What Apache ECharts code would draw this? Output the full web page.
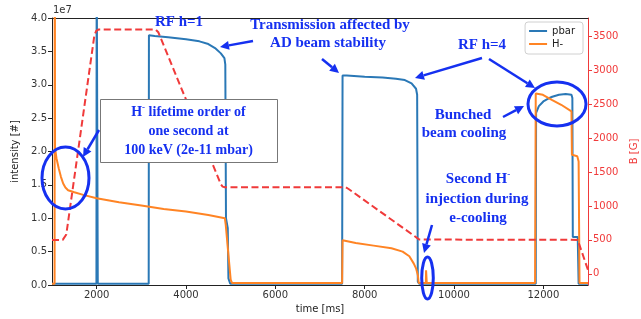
<!DOCTYPE html>
<html>
<head>
<meta charset="utf-8">
<script src="https://cdn.jsdelivr.net/npm/echarts@6/dist/echarts.min.js"></script>
<style>
html, body { margin: 0; padding: 0; background: #fff; }
#main { width: 641px; height: 319px; }
</style>
</head>
<body>
<div id="main"></div>
<script>
// time [ms] vs intensity (x1e7)
const pbar = [
    [1000, 0.02], [1995, 0.02], [2000, 5], [2020, 5], [2025, 0.02], [3165, 0.02],
    [3170, 3.74], [3300, 3.73], [3600, 3.71], [4000, 3.68], [4300, 3.65], [4500, 3.61],
    [4650, 3.55], [4780, 3.47], [4860, 3.40], [4880, 3.30], [4895, 1.0], [4935, 0.85],
    [4950, 0.1], [4990, 0.02], [7495, 0.02], [7505, 3.14], [7600, 3.14], [8000, 3.12],
    [8400, 3.11], [8700, 3.09], [8900, 3.07], [9050, 3.02], [9150, 2.94], [9175, 2.85],
    [9190, 0.05], [9220, 0.02], [11830, 0.02], [11838, 2.58], [11900, 2.68], [12000, 2.75],
    [12100, 2.79], [12200, 2.82], [12350, 2.85], [12500, 2.86], [12630, 2.85], [12650, 2.8],
    [12660, 0.72], [12770, 0.72], [12790, 0.02], [13000, 0.02]
];
const hminus = [
    [1000, 0.02], [1058, 0.02], [1062, 6], [1066, 6], [1068, 2.05], [1100, 1.9],
    [1150, 1.75], [1200, 1.62], [1250, 1.52], [1300, 1.46], [1360, 1.42], [1500, 1.39],
    [1700, 1.35], [2000, 1.3], [2500, 1.24], [3000, 1.19], [3500, 1.14], [4000, 1.10],
    [4500, 1.05], [4870, 1.0], [4890, 0.9], [4950, 0.45], [5000, 0.08], [5030, 0.03],
    [7495, 0.03], [7505, 0.67], [7800, 0.63], [8200, 0.59], [8600, 0.55], [8850, 0.5],
    [9000, 0.43], [9100, 0.32], [9150, 0.25], [9190, 0.15], [9210, 0.03], [9370, 0.03],
    [9375, 0.22], [9385, 0.22], [9390, 0.03], [11815, 0.03], [11830, 2.87], [11990, 2.85],
    [12200, 2.77], [12400, 2.7], [12630, 2.6], [12640, 1.95], [12760, 1.93], [12790, 1.85],
    [12810, 0.03], [13000, 0.03]
];
// magnetic field [G]
const bfield = [
    [1000, 500], [1240, 500], [1280, 520], [1320, 580], [1950, 3520], [1990, 3580],
    [2040, 3600], [3320, 3600], [3380, 3560], [4780, 1320], [4820, 1285], [4870, 1275],
    [7580, 1275], [7640, 1250], [9170, 530], [9220, 505], [9260, 500], [12770, 500],
    [12790, 490], [13050, -40]
];
const xTicks = [2000, 4000, 6000, 8000, 10000, 12000];
const bTicks = [0, 500, 1000, 1500, 2000, 2500, 3000, 3500];

const BLUE = '#1530f0';
const RED = '#f03a3a';
const serif = 'Liberation Serif, DejaVu Serif, serif';

function arrow(x1, y1, x2, y2) {
    const a = Math.atan2(y2 - y1, x2 - x1);
    const L = 9, W = 4.5;
    const bx = x2 - L * Math.cos(a), by = y2 - L * Math.sin(a);
    return [
        { type: 'line', z: 100, shape: { x1: x1, y1: y1, x2: bx, y2: by }, style: { stroke: BLUE, lineWidth: 2.5 } },
        { type: 'polygon', z: 100, shape: { points: [[x2, y2], [bx + W * Math.sin(a), by - W * Math.cos(a)], [bx - W * Math.sin(a), by + W * Math.cos(a)]] }, style: { fill: BLUE } }
    ];
}
function label(x, y, txt, size) {
    return {
        type: 'text', z: 101, x: x, y: y,
        style: {
            text: txt, fill: BLUE, font: 'bold ' + (size || 15) + 'px ' + serif,
            align: 'center', verticalAlign: 'middle',
            rich: {
                sup: { fontSize: 9, fontWeight: 'bold', fontFamily: serif, fill: BLUE, padding: [0, 0, 9, 0] }
            }
        }
    };
}
function ellipse(cx, cy, rx, ry) {
    return { type: 'ellipse', z: 100, shape: { cx: cx, cy: cy, rx: rx, ry: ry }, style: { fill: 'none', stroke: BLUE, lineWidth: 3 } };
}

let myChart = echarts.init(document.getElementById('main'));

let option = {
    animation: false,
    backgroundColor: '#fff',
    textStyle: { fontFamily: 'DejaVu Sans' },
    grid: { left: 52, right: 53, top: 18, bottom: 34, outerBoundsMode: 'none', containLabel: false },
    legend: {
        data: [{ name: 'pbar', icon: 'rect' }, { name: 'H-', icon: 'rect' }],
        orient: 'vertical',
        right: 58, top: 22,
        itemWidth: 18, itemHeight: 2, itemGap: 3,
        padding: [4, 8, 5, 4],
        backgroundColor: '#fff',
        borderColor: '#d0d0d0', borderWidth: 1, borderRadius: 3,
        textStyle: { fontSize: 10, color: '#222', fontFamily: 'DejaVu Sans' }
    },
    xAxis: [{
        type: 'value', min: 1000, max: 13000, position: 'bottom',
        name: 'time [ms]', nameLocation: 'middle', nameGap: 19,
        nameTextStyle: { fontSize: 10, color: '#222' },
        axisLine: { show: true, onZero: false, lineStyle: { color: '#222', width: 1 } },
        axisTick: { show: true, length: 4, customValues: xTicks, lineStyle: { color: '#222' } },
        axisLabel: { customValues: xTicks, fontSize: 10, color: '#333', margin: 5, formatter: v => String(v) },
        splitLine: { show: false }
    }, {
        type: 'value', min: 1000, max: 13000, position: 'top',
        axisLine: { show: true, onZero: false, lineStyle: { color: '#222', width: 1 } },
        axisTick: { show: false }, axisLabel: { show: false }, splitLine: { show: false }
    }],
    yAxis: [{
        type: 'value', min: 0, max: 4, interval: 0.5, position: 'left',
        name: 'intensity [#]', nameLocation: 'middle', nameGap: 29,
        nameTextStyle: { fontSize: 10, color: '#222' },
        axisLine: { show: true, onZero: false, lineStyle: { color: '#222', width: 1 } },
        axisTick: { show: true, length: 4, lineStyle: { color: '#222' } },
        axisLabel: { fontSize: 10, color: '#333', margin: 5, formatter: v => v.toFixed(1) },
        splitLine: { show: false }
    }, {
        type: 'value', min: -165, max: 3770, position: 'right',
        name: 'B [G]', nameLocation: 'middle', nameGap: 41,
        nameTextStyle: { fontSize: 10, color: RED },
        axisLine: { show: true, onZero: false, lineStyle: { color: RED, width: 1 } },
        axisTick: { show: true, length: 4, customValues: bTicks, lineStyle: { color: RED } },
        axisLabel: { customValues: bTicks, fontSize: 10, color: RED, margin: 5, formatter: v => String(v) },
        splitLine: { show: false }
    }],
    series: [{
        name: 'pbar', type: 'line', xAxisIndex: 0, yAxisIndex: 0, data: pbar,
        showSymbol: false, symbol: 'none', z: 2,
        itemStyle: { color: '#2a78b6' },
        lineStyle: { color: '#2a78b6', width: 2 }
    }, {
        name: 'H-', type: 'line', xAxisIndex: 0, yAxisIndex: 0, data: hminus,
        showSymbol: false, symbol: 'none', z: 3,
        itemStyle: { color: '#ff8424' },
        lineStyle: { color: '#ff8424', width: 2 }
    }, {
        name: 'B', type: 'line', xAxisIndex: 0, yAxisIndex: 1, data: bfield,
        showSymbol: false, symbol: 'none', z: 4,
        itemStyle: { color: RED },
        lineStyle: { color: RED, width: 2, type: [7, 3.5] }
    }],
    graphic: [
        { type: 'text', left: 53, top: 5, style: { text: '1e7', font: '10px DejaVu Sans', fill: '#333' } },
        // H- lifetime box
        { type: 'rect', z: 99, shape: { x: 100.5, y: 99.5, width: 177, height: 63 }, style: { fill: '#fff', stroke: '#777', lineWidth: 1 } },
        label(188.5, 112, 'H{sup|-} lifetime order of', 14),
        label(188.5, 131, 'one second at', 14),
        label(188.5, 150, '100 keV (2e-11 mbar)', 14),
        label(179, 22, 'RF h=1'),
        label(330, 25, 'Transmission affected by'),
        label(328, 43, 'AD beam stability'),
        label(482, 45, 'RF h=4'),
        label(463, 115, 'Bunched'),
        label(464, 133, 'beam cooling'),
        label(478, 179, 'Second H{sup|-}'),
        label(477, 199, 'injection during'),
        label(478, 218, 'e-cooling'),
        ellipse(65.5, 178, 23.5, 31),
        ellipse(427.5, 278, 5.8, 21),
        ellipse(557, 104, 29, 22)
    ].concat(
        arrow(253, 41, 220, 47),
        arrow(322, 59, 339, 73),
        arrow(482, 58, 415, 78),
        arrow(489, 59, 535, 88),
        arrow(503, 117, 524, 106),
        arrow(99, 130, 83, 157),
        arrow(432, 225, 424, 253)
    )
};

myChart.setOption(option);
</script>
</body>
</html>
